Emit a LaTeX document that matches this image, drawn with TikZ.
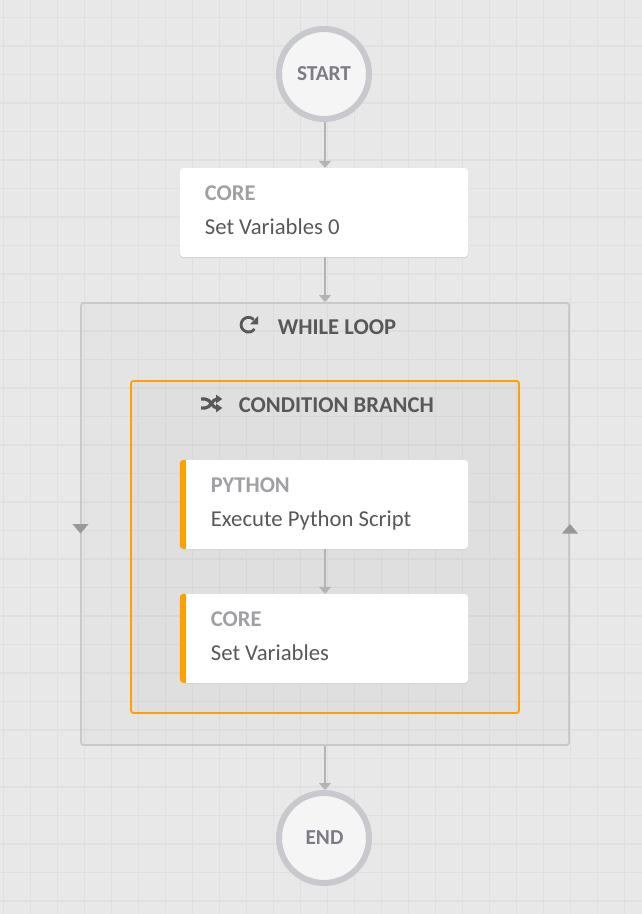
\documentclass[tikz,border=0pt]{standalone}
\usepackage{fontspec}
\setmainfont{Carlito}
\usetikzlibrary{arrows.meta}
\definecolor{bgc}{HTML}{E8E8E8}
\definecolor{gridc}{HTML}{E0E0E0}
\definecolor{ringc}{HTML}{C8C9CD}
\definecolor{connc}{HTML}{B4B4B4}
\definecolor{orangec}{HTML}{FFA000}
\definecolor{dark}{HTML}{585858}
\definecolor{mutedc}{HTML}{A0A0A4}
\definecolor{termc}{HTML}{7C7C86}
\tikzset{
  x=1pt,y=-1pt,
  terminal/.style={circle,draw=ringc,line width=6pt,fill=white!96!black,minimum size=90pt,inner sep=0pt},
  cardbox/.style={rectangle,rounded corners=3.5pt,fill=white,minimum width=288pt,minimum height=89pt,inner sep=0pt},
  cardshadow/.style={rectangle,rounded corners=3.5pt,fill=black!18,minimum width=288pt,minimum height=89pt,inner sep=0pt},
  conn/.style={draw=connc,line width=1.7pt,-{Triangle[length=7pt,width=12pt,fill=connc]}},
  labeltext/.style={anchor=base west,inner sep=0pt,text=dark,font=\fontsize{22.7}{24}\selectfont},
  kindtext/.style={anchor=base west,inner sep=0pt,text=mutedc,font=\fontsize{22.5}{24}\selectfont\bfseries},
  headtext/.style={anchor=base west,inner sep=0pt,text=dark,font=\fontsize{22.6}{24}\selectfont\bfseries},
  termtext/.style={anchor=base,inner sep=0pt,text=termc,font=\fontsize{21.3}{24}\selectfont\bfseries},
  loopbox/.style={draw=ringc,line width=1.8pt,rounded corners=2.5pt,fill=black,fill opacity=.016,minimum width=488pt,minimum height=442pt,inner sep=0pt},
  branchbox/.style={draw=orangec,line width=1.8pt,rounded corners=2.5pt,fill=black,fill opacity=.018,minimum width=388pt,minimum height=332pt,inner sep=0pt},
}
\begin{document}
\begin{tikzpicture}
\useasboundingbox (0,0) rectangle (642,914);
\fill[bgc] (0,0) rectangle (642,914);
% grid
\foreach \i in {0,...,23} \draw[gridc,line width=1pt] ({3.5+27*\i},0) -- ({3.5+27*\i},914);
\foreach \i in {0,...,31} \draw[gridc,line width=1.5pt] (0,{17.7+28.5*\i}) -- (642,{17.7+28.5*\i});
% containers
\node[loopbox] (loop) at (325,524) {};
\node[branchbox] (branch) at (325,547) {};
% terminals
\node[terminal] (start) at (324,74) {};
\node[terminal] (end) at (324,838) {};
\node[termtext] at (324,80.3) {START};
\node[termtext] at (324.5,844.2) {END};
% cards
\node[cardshadow] at (324,213.5) {};
\node[cardbox] (core0) at (324,212.5) {};
\node[cardshadow] at (324,505.5) {};
\node[cardbox] (python) at (324,504.5) {};
\node[cardshadow] at (324,639.5) {};
\node[cardbox] (core1) at (324,638.5) {};
% orange strips
\begin{scope}
\clip (python.north west) rectangle ++(6,89);
\fill[orangec,rounded corners=3.5pt] (python.north west) rectangle ++(20,89);
\end{scope}
\begin{scope}
\clip (core1.north west) rectangle ++(6,89);
\fill[orangec,rounded corners=3.5pt] (core1.north west) rectangle ++(20,89);
\end{scope}
% connectors
\draw[conn] ([xshift=1pt]start.south) -- ([xshift=1pt]core0.north);
\draw[conn] ([xshift=1pt]core0.south) -- (loop.north);
\draw[conn] ([xshift=1pt]python.south) -- ([xshift=1pt]core1.north);
\draw[conn] (loop.south) -- ([xshift=1pt]end.north);
% loop direction markers
\fill[connc!85!black] (72.5,524) -- (88.5,524) -- (80.5,533.5) -- cycle;
\fill[connc!85!black] (562,533.5) -- (578,533.5) -- (570,524) -- cycle;
% texts
\node[kindtext] at (204.7,200.3) {CORE};
\node[labeltext] at (204.7,234.2) {Set Variables 0};
\node[kindtext] at (210.7,492.5) {PYTHON};
\node[labeltext] at (210.7,526.2) {Execute Python Script};
\node[kindtext] at (210.7,626.5) {CORE};
\node[labeltext] at (210.7,660.2) {Set Variables};
\node[headtext] at (277.7,334.5) {WHILE LOOP};
\node[headtext] at (238.7,412.7) {CONDITION BRANCH};
% refresh icon
\draw[dark,line width=2.8pt] (253.7,319.5) arc[start angle=45,end angle=325,radius=7.4pt];
\fill[dark] (258,316) -- (258,324.3) -- (250,324.3) -- cycle;
% shuffle icon
\draw[dark,line width=3.2pt] (201,399) -- (205,399) .. controls (211,399) and (212,408) .. (217,408) -- (218,408);
\draw[dark,line width=3.2pt] (201,408) -- (205,408) .. controls (211,408) and (212,399) .. (217,399) -- (218,399);
\fill[dark] (216,394.6) -- (222.3,399) -- (216,403.4) -- cycle;
\fill[dark] (216,403.6) -- (222.3,408) -- (216,412.4) -- cycle;
\end{tikzpicture}
\end{document}
